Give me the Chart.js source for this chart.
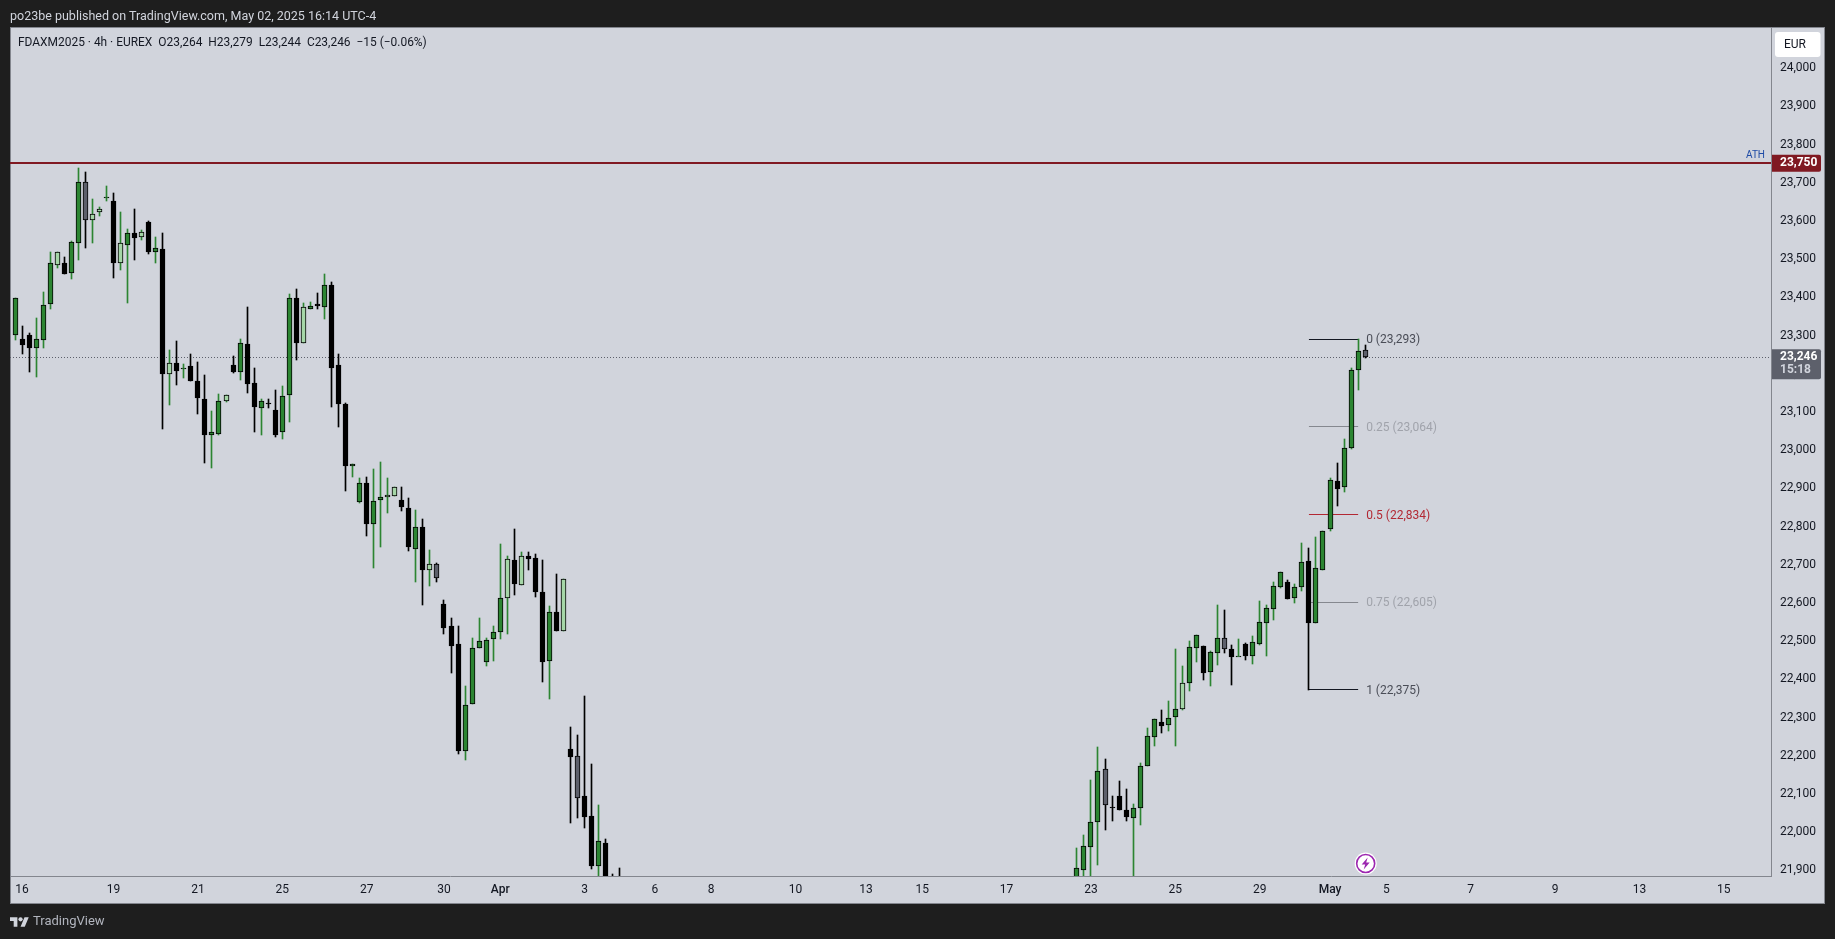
<!DOCTYPE html>
<html>
<head>
<meta charset="utf-8">
<title>FDAXM2025 4h</title>
<script src="https://cdn.jsdelivr.net/npm/chart.js@4/dist/chart.umd.js"></script>
<style>
    html, body { margin: 0; padding: 0; background: #1e1e1e; overflow: hidden; }
    body { width: 1835px; height: 939px; position: relative; font-family: Roboto, sans-serif; }
    #panel { position: absolute; left: 10px; top: 27px; width: 1815px; height: 877px; background: #d1d4dc; box-sizing: border-box; border: 1px solid #83868e; }
    #chart { position: absolute; left: 0; top: 0; }
    #published { position: absolute; left: 10px; top: 8px; font-size: 12.5px; line-height: 16px; color: #d1d4dc; white-space: nowrap; }
    #legend { position: absolute; left: 18px; top: 34px; font-size: 11.95px; line-height: 16px; color: #131722; white-space: pre; }
    #brand { position: absolute; left: 10px; top: 913px; height: 16px; color: #b2b5be; font-size: 13px; line-height: 16px; white-space: nowrap; }
    #brand svg { position: absolute; left: 0; top: 4px; }
    #brand span { position: absolute; left: 23px; top: 0; }
</style>
</head>
<body>
<div id="panel"></div>
<canvas id="chart" width="1835" height="939"></canvas>
<div id="published">po23be published on TradingView.com, May 02, 2025 16:14 UTC-4</div>
<div id="legend">FDAXM2025 · 4h · EUREX  O23,264  H23,279  L23,244  C23,246  −15 (−0.06%)</div>
<div id="brand">
    <svg width="19" height="10" viewBox="0 4 36 18"><path fill="#d1d4dc" d="M14 22H7V11H0V4h14v18zM28 22h-8l7.5-18h8L28 22z"/><circle fill="#d1d4dc" cx="20" cy="8" r="4"/></svg>
    <span>TradingView</span>
</div>
<script>
// Bars 87-150 trade below the visible price range, so they are not listed
const hiddenFrom = 87;
const hiddenCount = 64;

const opens = [
    23303, 23293, 23303, 23271, 23292, 23386, 23488, 23494, 23466, 23546, 23706, 23604, 23627, 23665, 23655, 23494,
    23541, 23570, 23562, 23600, 23522, 23529, 23203, 23230, 23217, 23223, 23184, 23137, 23043, 23046, 23132, 23226,
    23207, 23281, 23179, 23114, 23126, 23107, 23049, 23146, 23400, 23282, 23373, 23385, 23378, 23435, 23225, 23124,
    22962, 22868, 22916, 22810, 22871, 22879, 22884, 22872, 22851, 22745, 22801, 22690, 22704, 22599, 22542, 22495,
    22214, 22339, 22486, 22447, 22509, 22528, 22617, 22714, 22651, 22725, 22720, 22631, 22452, 22578, 22530, 22221,
    22201, 22098, 22045, 21915, 21975, 21870, 21850,
    21860, 21905, 21965, 22030, 22167, 22068, 22098, 22061, 22041, 22067, 22177, 22253, 22291, 22284, 22303, 22326,
    22392, 22486, 22489, 22423, 22473, 22510, 22482, 22463, 22495, 22465, 22496, 22551, 22588, 22645, 22657, 22617,
    22645, 22713, 22549, 22690, 22797, 22921, 22906, 23008, 23212, 23264
];
const highs = [
    23400, 23328, 23309, 23349, 23416, 23522, 23521, 23508, 23549, 23741, 23731, 23660, 23639, 23694, 23676, 23626,
    23582, 23634, 23579, 23603, 23561, 23571, 23265, 23289, 23228, 23255, 23234, 23200, 23105, 23150, 23146, 23249,
    23294, 23378, 23218, 23137, 23137, 23160, 23171, 23412, 23425, 23388, 23391, 23414, 23464, 23442, 23255, 23126,
    22967, 22930, 22933, 22954, 22972, 22930, 22906, 22906, 22878, 22846, 22823, 22741, 22708, 22611, 22564, 22543,
    22386, 22511, 22564, 22511, 22543, 22757, 22726, 22796, 22736, 22736, 22731, 22715, 22595, 22679, 22665, 22278,
    22257, 22359, 22181, 22074, 21985, 21893, 21909,
    21961, 21995, 22139, 22226, 22194, 22098, 22137, 22116, 22077, 22184, 22276, 22298, 22323, 22346, 22482, 22438,
    22503, 22518, 22489, 22477, 22598, 22584, 22493, 22509, 22498, 22516, 22608, 22597, 22657, 22683, 22663, 22652,
    22760, 22747, 22775, 22790, 22929, 22969, 23032, 23218, 23293, 23279
];
const lows = [
    23291, 23255, 23208, 23193, 23270, 23373, 23480, 23465, 23451, 23501, 23533, 23545, 23616, 23655, 23453, 23474,
    23388, 23501, 23553, 23516, 23493, 23058, 23121, 23173, 23192, 23185, 23098, 22969, 22956, 23043, 23129, 23206,
    23187, 23152, 23050, 23043, 23113, 23038, 23032, 23077, 23239, 23282, 23372, 23372, 23346, 23116, 23064, 22896,
    22933, 22865, 22778, 22694, 22749, 22838, 22884, 22844, 22739, 22658, 22598, 22647, 22658, 22522, 22420, 22208,
    22192, 22339, 22485, 22438, 22451, 22509, 22522, 22624, 22651, 22689, 22618, 22396, 22351, 22530, 22530, 22027,
    22040, 22014, 21907, 21860, 21830, 21790, 21770,
    21840, 21880, 21870, 21917, 22009, 22032, 22061, 22032, 21870, 22022, 22177, 22228, 22263, 22268, 22228, 22323,
    22372, 22448, 22401, 22386, 22441, 22472, 22388, 22463, 22454, 22443, 22493, 22464, 22558, 22642, 22613, 22603,
    22634, 22375, 22549, 22690, 22792, 22857, 22893, 23006, 23160, 23244
];
const closes = [
    23400, 23279, 23271, 23293, 23382, 23492, 23521, 23465, 23547, 23704, 23604, 23620, 23633, 23665, 23494, 23544,
    23570, 23559, 23573, 23522, 23531, 23203, 23230, 23211, 23217, 23185, 23140, 23043, 23050, 23131, 23146, 23208,
    23282, 23177, 23117, 23131, 23125, 23043, 23144, 23400, 23282, 23377, 23379, 23381, 23434, 23219, 23124, 22962,
    22966, 22916, 22810, 22869, 22879, 22885, 22906, 22855, 22748, 22801, 22689, 22704, 22667, 22536, 22491, 22214,
    22335, 22484, 22502, 22505, 22526, 22615, 22717, 22653, 22725, 22719, 22632, 22447, 22578, 22530, 22665, 22200,
    22093, 22043, 21914, 21979, 21850, 21810, 21790,
    21908, 21966, 22029, 22162, 22075, 22067, 22061, 22043, 22065, 22175, 22254, 22298, 22281, 22301, 22324, 22392,
    22487, 22518, 22420, 22474, 22510, 22481, 22462, 22463, 22465, 22500, 22552, 22589, 22646, 22683, 22613, 22644,
    22709, 22550, 22693, 22790, 22924, 22902, 23008, 23212, 23262, 23246
];
// Low-volume bars are drawn in the paler tone
const paleUpBars = [6, 11, 12, 15, 18, 22, 30, 41, 53, 54, 59, 70, 72, 78, 166];
const paleDownBars = [10, 60, 80, 155, 172, 192];

const priceTicks = [
    21900, 22000, 22100, 22200, 22300, 22400, 22500, 22600, 22700, 22800, 22900,
    23000, 23100, 23200, 23300, 23400, 23500, 23600, 23700, 23800, 23900, 24000
];
const timeTickLabels = ['16', '19', '21', '25', '27', '30', 'Apr', '3', '6', '8', '10', '13', '15', '17', '23', '25', '29', 'May', '5', '7', '9', '13', '15'];
const timeTickBars = [1, 14, 26, 38, 50, 61, 69, 81, 91, 99, 111, 121, 129, 141, 153, 165, 177, 187, 195, 207, 219, 231, 243];

const fibLevels = [0, 0.25, 0.5, 0.75, 1];
const fibPrices = [23293, 23064, 22834, 22605, 22375];
const fibLineColors = ['#131722', '#85888f', '#b22833', '#85888f', '#131722'];
const fibTextColors = ['#4a4d57', '#a0a3ab', '#b22833', '#a0a3ab', '#4a4d57'];
const fibStartBar = 184;
const fibEndBar = 191;

const athPrice = 23755;
const athLabel = '23,750';
const lastPrice = 23246;
const lastLabel = '23,246';
const countdown = '15:18';
const currency = 'EUR';

const FONT = 'Roboto, sans-serif';
const GREEN = '#2c8532';
const PALE_GREEN = '#a5d6a7';
const GREY = '#5d606b';
const DARK_RED = '#801922';
const AXIS_LINE = '#83868e';

const xMin = -0.718;
const xMax = 249.71;

const barAt = i => (i < hiddenFrom ? i : i + hiddenCount);
const wicks = highs.map((h, i) => ({ x: barAt(i), y: [lows[i], h] }));
const bodies = opens.map((o, i) => ({ x: barAt(i), y: [o, closes[i]] }));
const isUp = i => closes[i] >= opens[i];
const fmt = v => v.toLocaleString('en-US');

function bodyColor(ctx) {
    const bar = barAt(ctx.dataIndex);
    if (isUp(ctx.dataIndex)) return paleUpBars.includes(bar) ? PALE_GREEN : GREEN;
    return paleDownBars.includes(bar) ? GREY : '#000000';
}

function levelLine(y, x0, x1, color, width, dash) {
    return {
        type: 'line',
        data: [{ x: x0, y }, { x: x1, y }],
        borderColor: color,
        borderWidth: width,
        borderDash: dash || [],
        pointRadius: 0,
        order: 3
    };
}

// Pixel-snap the marks so the 1px wicks and borders stay crisp
const snapPlugin = {
    id: 'snap',
    beforeDatasetsDraw(chart) {
        chart.data.datasets.forEach((ds, i) => {
            chart.getDatasetMeta(i).data.forEach(el => {
                if (ds.type === 'line') {
                    el.y = ds.borderWidth === 2 ? Math.round(el.y) : Math.floor(el.y) + 0.5;
                    return;
                }
                el.x = Math.floor(el.x) + 0.5;
                el.y = Math.round(el.y);
                el.base = Math.round(el.base);
                if (el.y === el.base) el.base = el.y + 1;
            });
        });
    }
};

// Price boxes, fib labels and the event marker
const overlayPlugin = {
    id: 'overlay',
    afterDraw(chart) {
        const { ctx, scales: { x, y }, chartArea } = chart;
        const axisLeft = chartArea.right;
        ctx.save();
        ctx.textBaseline = 'middle';

        // fib labels
        ctx.font = '12px ' + FONT;
        ctx.textAlign = 'left';
        fibLevels.forEach((level, i) => {
            ctx.fillStyle = fibTextColors[i];
            ctx.fillText(level + ' (' + fmt(fibPrices[i]) + ')', x.getPixelForValue(fibEndBar) + 8, y.getPixelForValue(fibPrices[i]) + 1);
        });

        // ATH
        const athY = y.getPixelForValue(athPrice);
        ctx.fillStyle = '#1f4ba5';
        ctx.font = '10px ' + FONT;
        ctx.textAlign = 'right';
        ctx.fillText('ATH', axisLeft - 6, athY - 7);
        ctx.fillStyle = DARK_RED;
        ctx.beginPath();
        ctx.roundRect(axisLeft + 1, athY - 8, 49, 17, [0, 2, 2, 0]);
        ctx.fill();
        ctx.fillStyle = '#ffffff';
        ctx.font = 'bold 12px ' + FONT;
        ctx.textAlign = 'left';
        ctx.fillText(athLabel, axisLeft + 9, athY + 0.5);

        // last price and countdown
        const lastY = y.getPixelForValue(lastPrice);
        ctx.fillStyle = GREY;
        ctx.beginPath();
        ctx.roundRect(axisLeft + 1, lastY - 8, 49, 30, [0, 2, 2, 0]);
        ctx.fill();
        ctx.fillStyle = '#ffffff';
        ctx.fillText(lastLabel, axisLeft + 9, lastY - 0.5);
        ctx.fillStyle = '#d1d4dc';
        ctx.fillText(countdown, axisLeft + 9, lastY + 13);

        // currency button
        ctx.fillStyle = '#ffffff';
        ctx.beginPath();
        ctx.roundRect(axisLeft + 4, chartArea.top + 5, 45.5, 25, 3);
        ctx.fill();
        ctx.fillStyle = '#131722';
        ctx.font = '12px ' + FONT;
        ctx.textAlign = 'center';
        ctx.fillText(currency, axisLeft + 24, chartArea.top + 18);

        // event marker on the last bar
        const cx = x.getPixelForValue(192) + 0.5;
        const cy = chartArea.bottom - 12.5;
        ctx.fillStyle = '#ffffff';
        ctx.beginPath();
        ctx.arc(cx, cy, 11, 0, Math.PI * 2);
        ctx.fill();
        ctx.strokeStyle = '#9c27b0';
        ctx.lineWidth = 1.6;
        ctx.beginPath();
        ctx.arc(cx, cy, 9, 0, Math.PI * 2);
        ctx.stroke();
        ctx.fillStyle = '#9c27b0';
        ctx.beginPath();
        ctx.moveTo(cx + 2, cy - 6);
        ctx.lineTo(cx - 4, cy + 1);
        ctx.lineTo(cx - 0.5, cy + 1);
        ctx.lineTo(cx - 2, cy + 6);
        ctx.lineTo(cx + 4, cy - 1);
        ctx.lineTo(cx + 0.5, cy - 1);
        ctx.closePath();
        ctx.fill();
        ctx.restore();
    }
};

const fibDatasets = fibPrices.map((p, i) => levelLine(p, fibStartBar, fibEndBar, fibLineColors[i], 1));

new Chart(document.getElementById('chart'), {
    type: 'bar',
    data: {
        datasets: [
            {
                label: 'Body',
                data: bodies,
                barThickness: 5,
                grouped: false,
                backgroundColor: bodyColor,
                borderColor: '#000000',
                borderWidth: 1,
                borderSkipped: false,
                order: 1
            },
            {
                label: 'Wick',
                data: wicks,
                barThickness: 1,
                grouped: false,
                backgroundColor: ctx => (isUp(ctx.dataIndex) ? GREEN : '#000000'),
                borderWidth: 0,
                order: 2
            },
            levelLine(lastPrice, xMin, xMax, GREY, 1, [1, 2]),
            levelLine(athPrice, xMin, xMax, DARK_RED, 2),
            ...fibDatasets
        ]
    },
    options: {
        responsive: false,
        animation: false,
        events: [],
        layout: { autoPadding: false, padding: { left: 10, top: 27, right: 10, bottom: 36 } },
        plugins: { legend: { display: false }, tooltip: { enabled: false } },
        scales: {
            x: {
                type: 'linear',
                offset: false,
                min: xMin,
                max: xMax,
                grid: { display: false, drawTicks: false, offset: false },
                border: { display: true, color: AXIS_LINE },
                afterBuildTicks: axis => { axis.ticks = timeTickBars.map(value => ({ value })); },
                afterFit: axis => { axis.height = 27; },
                ticks: {
                    autoSkip: false,
                    maxRotation: 0,
                    padding: 7,
                    color: '#131722',
                    callback: (value, index) => timeTickLabels[index],
                    font: ctx => {
                        const label = timeTickLabels[ctx.index];
                        return { family: FONT, size: 12, weight: label === 'Apr' || label === 'May' ? '500' : 'normal' };
                    }
                }
            },
            y: {
                position: 'right',
                min: 21888,
                max: 24110.5,
                grid: { display: false, drawTicks: false },
                border: { display: true, color: AXIS_LINE },
                afterBuildTicks: axis => { axis.ticks = priceTicks.map(value => ({ value })); },
                afterFit: axis => { axis.width = 54; },
                ticks: {
                    autoSkip: false,
                    padding: 9,
                    labelOffset: -1,
                    color: '#131722',
                    font: { family: FONT, size: 12 },
                    callback: value => fmt(value)
                }
            }
        }
    },
    plugins: [snapPlugin, overlayPlugin]
});
</script>
</body>
</html>
